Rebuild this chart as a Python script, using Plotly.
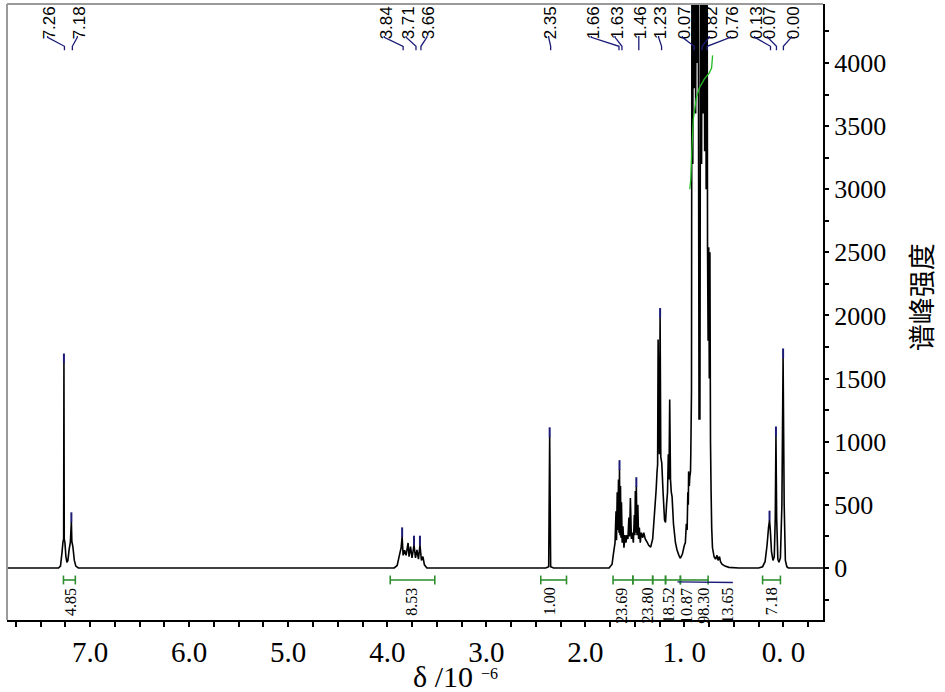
import plotly.graph_objects as go

# ---------------- data ----------------
# spectrum polyline vertices (chemical shift, intensity)
spec_ppm = [7.84, 7.32, 7.30, 7.285, 7.275, 7.268, 7.265, 7.262, 7.255, 7.245, 7.235, 7.225, 7.212, 7.20, 7.19, 7.185, 7.175, 7.16, 7.145, 7.12,
            3.93, 3.90, 3.875, 3.86, 3.85, 3.84, 3.825, 3.81, 3.79, 3.78, 3.765, 3.75, 3.73, 3.715, 3.70, 3.685, 3.67, 3.655, 3.64, 3.625, 3.60,
            2.40, 2.37, 2.36, 2.35, 2.32,
            1.76, 1.73, 1.715, 1.70, 1.69, 1.685, 1.678, 1.672, 1.665, 1.66, 1.655, 1.65, 1.645, 1.64, 1.635, 1.628, 1.62, 1.61, 1.60, 1.59,
            1.58, 1.57, 1.56, 1.553, 1.545, 1.535, 1.525, 1.515, 1.505, 1.50, 1.495, 1.49, 1.485, 1.478, 1.47, 1.462, 1.455, 1.445, 1.435,
            1.42, 1.41, 1.395, 1.38, 1.36, 1.34, 1.32, 1.30, 1.285, 1.276, 1.27, 1.265, 1.258, 1.252, 1.245, 1.238, 1.228, 1.215, 1.20,
            1.19, 1.18, 1.17, 1.162, 1.155, 1.148, 1.14, 1.132, 1.124, 1.11, 1.09, 1.074, 1.055, 1.04, 1.02, 1.00, 0.99, 0.98, 0.972,
            0.965, 0.96, 0.957, 0.95, 0.945, 0.938, 0.935, 0.928, 0.922, 0.915, 0.908, 0.90, 0.893, 0.886, 0.878, 0.87, 0.862, 0.852,
            0.843, 0.834, 0.826, 0.818, 0.81, 0.802, 0.795, 0.787, 0.78, 0.772, 0.766, 0.76, 0.754, 0.748, 0.742, 0.736, 0.73, 0.724,
            0.716, 0.70, 0.685, 0.67, 0.66, 0.645, 0.635, 0.62, 0.59, 0.55, 0.45,
            0.25, 0.21, 0.185, 0.165, 0.15, 0.14, 0.132, 0.12, 0.105, 0.092, 0.082, 0.075, 0.068, 0.056, 0.045, 0.03, 0.015, 0.003,
            -0.008, -0.02, -0.035, -0.05, -0.40]
spec_int = [0, 0, 15, 120, 205, 230, 1625, 230, 200, 90, 45, 60, 150, 205, 367, 210, 170, 60, 15, 0,
            0, 20, 110, 160, 248, 100, 140, 100, 198, 90, 169, 80, 182, 80, 143, 70, 182, 60, 90, 25, 0,
            0, 10, 1040, 10, 0,
            0, 30, 120, 200, 450, 220, 600, 300, 700, 280, 780, 260, 650, 240, 520, 200, 330, 160, 260, 200,
            260, 230, 400, 250, 555, 230, 280, 200, 420, 260, 610, 280, 645, 260, 500, 230, 320, 200, 280,
            240, 280, 230, 210, 180, 165, 230, 450, 620, 760, 820, 1810, 1200, 900, 1985, 880, 830, 600, 380,
            360, 500, 600, 900, 700, 1335, 700, 600, 565, 350, 200, 143, 100, 77, 110, 180, 200, 350, 300,
            600, 500, 765, 650, 724, 760, 900, 1400, 6000, 3200, 6000, 3800, 6000, 3600, 6000, 4000, 6000, 1180,
            1180, 6000, 3200, 6000, 3600, 6000, 3300, 6000, 3000, 6000, 2540, 1800, 2540, 1500, 2500, 1000, 600, 320,
            160, 90, 70, 100, 60, 90, 50, 30, 15, 5, 0,
            0, 10, 50, 180, 320, 380, 300, 130, 60, 90, 400, 1047, 400, 70, 45, 80, 500, 1665,
            500, 60, 10, 0, 0]

# integral curve of the large 0.9 ppm multiplet
integral_ppm = [0.945, 0.935, 0.925, 0.91, 0.88, 0.85, 0.80, 0.75, 0.725, 0.715]
integral_val = [3000, 3080, 3300, 3550, 3720, 3800, 3870, 3920, 3960, 4060]

# peak picking labels
peak_labels = ["7.26", "7.18", "3.84", "3.71", "3.66", "2.35", "1.66", "1.63", "1.46", "1.23",
               "0.07", "0.82", "0.76", "0.13", "0.07", "0.00"]
peak_shift = [7.26, 7.18, 3.84, 3.71, 3.66, 2.35, 1.66, 1.63, 1.46, 1.23,
              0.90, 0.82, 0.77, 0.13, 0.07, 0.00]
# peak-top marks (shift, intensity)
mark_ppm = [7.265, 7.19, 3.85, 3.73, 3.67, 2.36, 1.655, 1.485, 1.245, 0.14, 0.075, 0.003]
mark_int = [1625, 367, 248, 182, 182, 1040, 780, 645, 1985, 380, 1047, 1665]

# integrals
integ_from = [7.27, 3.97, 2.45, 1.72, 1.52, 1.32, 1.19, 1.04, 0.76, 0.21]
integ_to = [7.15, 3.52, 2.19, 1.52, 1.32, 1.19, 1.04, 0.76, 0.51, 0.03]
integ_values = ["4.85", "8.53", "1.00", "23.69", "23.80", "18.52", "10.87", "98.30", "13.65", "7.18"]

x_tickvals = [7, 6, 5, 4, 3, 2, 1, 0]
x_ticktext = ["7.0", "6.0", "5.0", "4.0", "3.0", "2.0", "1. 0", "0. 0"]
y_tickvals = [0, 500, 1000, 1500, 2000, 2500, 3000, 3500, 4000]
y_ticktext = ["0", "500", "1000", "1500", "2000", "2500", "3000", "3500", "4000"]

# ---------------- layout constants ----------------
NAVY = "#1c1c78"
GREEN = "#2f8f2f"
SERIF = "Liberation Serif, Times New Roman, serif"
SANS = "Liberation Sans, Arial, sans-serif"
# label x positions (ppm coordinates of the rotated label texts)
label_pos = [7.43, 7.13, 4.03, 3.81, 3.60, 2.37, 1.94, 1.70, 1.46, 1.26,
             1.02, 0.75, 0.535, 0.29, 0.16, -0.08]
integ_label_pos = [7.20, 3.75, 2.36, 1.63, 1.37, 1.16, 0.98, 0.81, 0.56, 0.12]
LBL_LO, LBL_HI = 4171, 4465
CON_TOP, CON_MID, CON_BOT = 4203, 4132, 4100
BAR_Y, CAP_LO, CAP_HI = -95, -130, -60

fig = go.Figure()

# integral bars (green, with end caps)
bx, by = [], []
for i, (a, b) in enumerate(zip(integ_from, integ_to)):
    if i == 8:
        continue
    bx += [a, a, None, a, b, None, b, b, None]
    by += [CAP_LO, CAP_HI, None, BAR_Y, BAR_Y, None, CAP_LO, CAP_HI, None]
fig.add_trace(go.Scatter(x=bx, y=by, mode="lines", line=dict(color=GREEN, width=1.6),
                         hoverinfo="skip"))
# navy integral segment
fig.add_trace(go.Scatter(x=[1.07, integ_to[8]], y=[BAR_Y - 15, BAR_Y - 20], mode="lines",
                         line=dict(color=NAVY, width=1.4), hoverinfo="skip"))

# spectrum
fig.add_trace(go.Scatter(x=spec_ppm, y=spec_int, mode="lines",
                         line=dict(color="black", width=1.6, simplify=False), hoverinfo="skip"))

# integral curve
fig.add_trace(go.Scatter(x=integral_ppm, y=integral_val, mode="lines",
                         line=dict(color="#22bb22", width=1.3), hoverinfo="skip"))

# connectors
cx, cy = [], []
for lp, ps in zip(label_pos, peak_shift):
    cx += [lp, lp, ps, ps, None]
    cy += [CON_TOP + 10, CON_TOP, CON_MID, CON_BOT, None]
fig.add_trace(go.Scatter(x=cx, y=cy, mode="lines", line=dict(color=NAVY, width=1.3),
                         hoverinfo="skip"))

# peak-top marks
fig.add_trace(go.Scatter(x=mark_ppm, y=[v + 35 for v in mark_int], mode="markers",
                         marker=dict(symbol="line-ns", size=7, line=dict(color=NAVY, width=2)),
                         hoverinfo="skip"))

shapes = []
# frame (left + top grey)
shapes.append(dict(type="line", xref="paper", yref="paper", x0=0, x1=0, y0=0, y1=1,
                   line=dict(color="#9a9a9a", width=2)))
shapes.append(dict(type="line", xref="paper", yref="paper", x0=0, x1=1, y0=1, y1=1,
                   line=dict(color="#9a9a9a", width=2)))
# peak labels as shapes below the traces
for txt, lp in zip(peak_labels, label_pos):
    shapes.append(dict(type="line", xref="x", yref="y", x0=lp, x1=lp, y0=LBL_LO, y1=LBL_HI,
                       layer="below", line=dict(width=0, color="rgba(0,0,0,0)"),
                       label=dict(text=txt, textangle=-90, textposition="middle",
                                  xanchor="center", yanchor="middle",
                                  font=dict(family=SANS, size=17, color="black"))))

annotations = []
for txt, lp in zip(integ_values, integ_label_pos):
    annotations.append(dict(x=lp, y=-140, xref="x", yref="y", text=txt, showarrow=False,
                            textangle=-90, xanchor="center", yanchor="top",
                            font=dict(family=SERIF, size=16, color="black")))
# x-axis title: "δ /10" with a superscript "−6"
annotations.append(dict(x=0.5345, y=-0.0925, xref="paper", yref="paper",
                        text="δ /10", showarrow=False,
                        xanchor="center", yanchor="middle",
                        font=dict(family=SERIF, size=30, color="black")))
annotations.append(dict(x=0.580, y=-0.087, xref="paper", yref="paper",
                        text="−6", showarrow=False, borderpad=0,
                        xanchor="left", yanchor="middle",
                        font=dict(family=SERIF, size=16, color="black")))
annotations.append(dict(x=1.119, y=0.524, xref="paper", yref="paper",
                        text="谱峰强度", showarrow=False, textangle=-90,
                        xanchor="center", yanchor="middle",
                        font=dict(family="Noto Sans CJK SC", size=27, color="black")))

fig.update_layout(
    width=945, height=692,
    margin=dict(l=7, r=122, t=4, b=72),
    paper_bgcolor="white", plot_bgcolor="white",
    showlegend=False,
    shapes=shapes, annotations=annotations,
    xaxis=dict(range=[7.84, -0.40], tickvals=x_tickvals, ticktext=x_ticktext,
               ticks="outside", ticklen=5, tickwidth=1.5, tickcolor="black",
               minor=dict(dtick=0.25, tick0=0, ticks="outside", ticklen=5, tickwidth=1.5, tickcolor="black"),
               showline=True, linecolor="black", linewidth=2,
               showgrid=False, zeroline=False,
               tickfont=dict(family=SERIF, size=29, color="black")),
    yaxis=dict(range=[-412, 4467], side="right", tickvals=y_tickvals, ticktext=y_ticktext,
               ticks="outside", ticklen=4, tickwidth=1.5, tickcolor="black",
               minor=dict(dtick=250, tick0=0, ticks="outside", ticklen=4, tickwidth=1.5, tickcolor="black"),
               showline=True, linecolor="black", linewidth=2,
               showgrid=False, zeroline=False,
               tickfont=dict(family=SERIF, size=26, color="black")),
)

fig.write_html("out.html", config={"displayModeBar": False},
               post_script="document.body.style.margin='0px';")
